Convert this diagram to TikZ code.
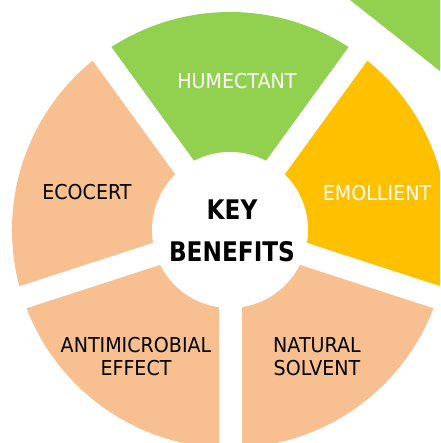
\documentclass[tikz,border=0pt]{standalone}
\usepackage{fontspec}
\setmainfont{DejaVu Sans}[FakeStretch=0.93]
\newfontfamily\hubfont{DejaVu Sans}[FakeStretch=0.86]
\definecolor{leaf}{HTML}{92D050}
\definecolor{gold}{HTML}{FFC000}
\definecolor{peach}{HTML}{F8C090}
\tikzset{
  lbl/.style={font=\fontsize{20.5}{23}\selectfont, align=center, inner sep=0pt},
  hub/.style={font=\hubfont\fontsize{27}{30}\selectfont\bfseries, inner sep=0pt},
  gapline/.style={white, line width=23pt},
}
\begin{document}
\begin{tikzpicture}[x=1pt,y=1pt]
\useasboundingbox (0,0) rectangle (440,443);
\clip (0,0) rectangle (440,443);
\coordinate (C) at (230,213);
\def\R{218}
% sectors
\fill[leaf]  (C) -- ++(54:\R)  arc[start angle=54, end angle=126, radius=\R] -- cycle;
\fill[peach] (C) -- ++(126:\R) arc[start angle=126, end angle=198, radius=\R] -- cycle;
\fill[peach] (C) -- ++(198:\R) arc[start angle=198, end angle=270, radius=\R] -- cycle;
\fill[peach] (C) -- ++(270:\R) arc[start angle=270, end angle=342, radius=\R] -- cycle;
\fill[gold]  (C) -- ++(-18:\R) arc[start angle=-18, end angle=54, radius=\R] -- cycle;
% gaps
\foreach \a in {54,126,198,270,342}
  \draw[gapline] (C) -- ++(\a:\R+6);
\fill[white] (C) circle[radius=78];
% neighbouring shape at the top right
\coordinate (g1) at (350,443);
\coordinate (g2) at (440,443);
\coordinate (g3) at (440,372);
\fill[leaf] (g1) -- (g2) -- (g3) -- cycle;
% labels
\node[lbl, text=white] (hum) at (237,362) {HUMECTANT};
\node[lbl, text=white] (emo) at (377,250) {EMOLLIENT};
\node[lbl] (eco) at (87,251) {ECOCERT};
\node[lbl] (anti) at (136,86.5) {ANTIMICROBIAL\\EFFECT};
\node[lbl] (nat) at (317,86.5) {NATURAL\\SOLVENT};
\node[hub] (key) at (232,233) {KEY};
\node[hub] (ben) at (232,191) {BENEFITS};
\end{tikzpicture}
\end{document}
